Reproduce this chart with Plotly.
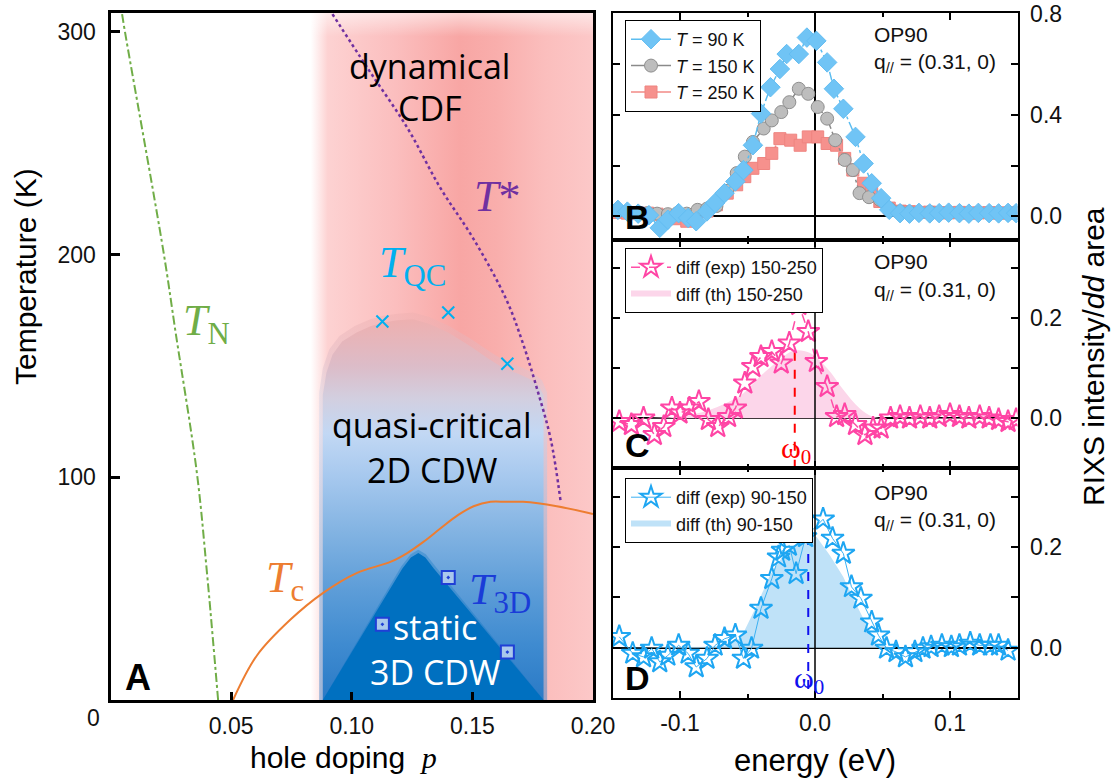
import plotly.graph_objects as go

W, H = 1116, 784


def fx(px):
    return px / W


def fy(py):
    return 1 - py / H


# ---------------- Panel A: phase diagram ----------------
# region outlines (hole doping p, temperature K)
pink_p = [0.083, 0.2, 0.2, 0.083, 0.083]
pink_T = [0, 0, 308.5, 308.5, 0]
pink_top_T = [298, 298, 308.5, 308.5, 298]

dome_p = [0.088, 0.088, 0.0895, 0.092, 0.096, 0.102, 0.108, 0.113, 0.119, 0.1255,
          0.132, 0.140, 0.149, 0.157, 0.163, 0.169, 0.174, 0.1775, 0.1795, 0.1795]
dome_T = [0, 137, 147, 155, 161, 165, 168, 169.5, 170.5, 171,
          169, 165, 159, 153, 149, 146.5, 144, 141, 137, 0]
# slightly larger outline used to soften the dome edge
dome_soft_p = [0.0865, 0.0865, 0.088, 0.0907, 0.0949, 0.1012, 0.1077, 0.1129, 0.119, 0.1255,
               0.1322, 0.1404, 0.1496, 0.1578, 0.1639, 0.1701, 0.1752, 0.1789, 0.181, 0.181]
dome_soft_T = [0, 138, 149, 157.5, 163.5, 168, 171, 172.5, 173.5, 174,
               172, 168, 162, 156, 152, 149.5, 147, 143.5, 138, 0]

cdw3d_p = [0.088, 0.121, 0.1245, 0.1276, 0.1305, 0.134, 0.1795]
cdw3d_T = [0, 59, 64, 66, 64, 59, 0]
halo_p = [0.088, 0.1205, 0.1244, 0.1276, 0.1307, 0.1347, 0.1795]
halo_T = [0, 60, 65.5, 67.5, 65.5, 60, 0]

# characteristic temperatures
tn_p = [0.0048, 0.006, 0.022, 0.027, 0.0358, 0.040, 0.0446]
tn_T = [308, 300, 201, 165, 102, 57, 0]

tc_p = [0.0508, 0.0607, 0.0745, 0.088, 0.102, 0.116, 0.123, 0.1297, 0.1367, 0.144,
        0.1505, 0.1575, 0.164, 0.171, 0.185, 0.2]
tc_T = [0, 20, 36, 48, 57, 62, 66, 71, 77, 83, 87, 89, 89, 89, 87, 83.5]

tstar_p = [0.092, 0.1064, 0.123, 0.1367, 0.1505, 0.164, 0.171, 0.177, 0.1825, 0.1866]
tstar_T = [308, 284, 257, 230, 207, 180, 160, 139, 117, 89]

tqc_p = [0.1127, 0.140, 0.1645]
tqc_T = [170, 174, 151]

t3d_p = [0.140, 0.1127, 0.1645]
t3d_T = [55, 34, 21.5]

# ---------------- Panel B: RIXS spectra ----------------
e90 = [-0.146, -0.139, -0.131, -0.123, -0.115, -0.109, -0.101, -0.094, -0.088, -0.080,
       -0.074, -0.067, -0.059, -0.053, -0.046, -0.040, -0.033, -0.026, -0.021, -0.012,
       -0.006, 0.001, 0.009, 0.014, 0.021, 0.030, 0.036, 0.042, 0.049, 0.055,
       0.063, 0.070, 0.077, 0.085, 0.092, 0.099, 0.107, 0.114, 0.121, 0.129,
       0.136, 0.143, 0.149]
i90 = [0.025, 0.018, 0.010, 0.004, -0.046, -0.014, 0.012, -0.007, -0.020, 0.019,
       0.052, 0.091, 0.137, 0.182, 0.280, 0.405, 0.509, 0.581, 0.640, 0.640,
       0.705, 0.692, 0.607, 0.503, 0.424, 0.313, 0.208, 0.130, 0.071, 0.025,
       0.012, 0.010, 0.013, 0.011, 0.012, 0.014, 0.012, 0.010, 0.013, 0.012,
       0.011, 0.013, 0.012]

e150 = [-0.146, -0.139, -0.131, -0.124, -0.117, -0.109, -0.102, -0.095, -0.087, -0.080,
        -0.073, -0.065, -0.058, -0.052, -0.046, -0.038, -0.032, -0.025, -0.019, -0.012,
        -0.005, 0.002, 0.009, 0.015, 0.022, 0.028, 0.033, 0.040, 0.048, 0.055,
        0.063, 0.070, 0.077, 0.085, 0.092, 0.099, 0.107, 0.114, 0.121, 0.129,
        0.136, 0.143, 0.149]
i150 = [0.020, 0.018, 0.015, 0.012, 0.010, 0.008, 0.012, 0.010, 0.025, 0.030,
        0.040, 0.100, 0.170, 0.235, 0.293, 0.346, 0.378, 0.411, 0.450, 0.503,
        0.483, 0.431, 0.385, 0.300, 0.222, 0.182, 0.091, 0.075, 0.065, 0.030,
        0.018, 0.015, 0.014, 0.016, 0.013, 0.015, 0.014, 0.012, 0.014, 0.013,
        0.012, 0.014, 0.013]

e250 = [-0.146, -0.139, -0.131, -0.124, -0.117, -0.109, -0.102, -0.095, -0.088, -0.080,
        -0.073, -0.065, -0.058, -0.052, -0.046, -0.038, -0.032, -0.026, -0.018, -0.011,
        -0.005, 0.002, 0.009, 0.016, 0.022, 0.028, 0.036, 0.042, 0.048, 0.055,
        0.063, 0.070, 0.077, 0.085, 0.092, 0.099, 0.107, 0.114, 0.121, 0.129,
        0.136, 0.143, 0.149]
i250 = [0.015, 0.012, 0.010, 0.012, 0.008, 0.000, -0.010, -0.020, 0.000, 0.020,
        0.045, 0.091, 0.124, 0.156, 0.189, 0.208, 0.248, 0.306, 0.300, 0.280,
        0.313, 0.313, 0.287, 0.280, 0.228, 0.182, 0.130, 0.091, 0.058, 0.032,
        0.020, 0.018, 0.015, 0.016, 0.014, 0.013, 0.015, 0.012, 0.013, 0.014,
        0.012, 0.013, 0.012]

# ---------------- Panel C: difference 150-250 ----------------
eC = [-0.145, -0.136, -0.127, -0.119, -0.112, -0.106, -0.100, -0.093, -0.086, -0.079,
      -0.072, -0.064, -0.059, -0.052, -0.046, -0.040, -0.032, -0.025, -0.019, -0.012,
      -0.005, 0.001, 0.009, 0.016, 0.022, 0.030, 0.037, 0.043, 0.049, 0.056,
      0.063, 0.070, 0.078, 0.085, 0.092, 0.100, 0.107, 0.114, 0.122, 0.129,
      0.136, 0.143, 0.149]
iC = [-0.007, -0.013, 0.000, -0.033, -0.017, 0.020, 0.010, 0.020, 0.033, -0.003,
      -0.017, 0.003, 0.020, 0.070, 0.103, 0.123, 0.133, 0.110, 0.150, 0.227,
      0.173, 0.113, 0.063, 0.003, 0.007, -0.013, -0.033, -0.020, -0.020, 0.000,
      0.003, 0.000, 0.003, 0.000, 0.003, 0.007, 0.003, 0.000, 0.003, 0.000,
      -0.003, -0.007, -0.003]
eC_th = [-0.15, -0.10, -0.08, -0.066, -0.053, -0.041, -0.028, -0.016, -0.004, 0.009,
         0.021, 0.033, 0.043, 0.06, 0.15]
iC_th = [0.0, 0.004, 0.015, 0.03, 0.05, 0.083, 0.113, 0.135, 0.131, 0.1,
         0.057, 0.02, 0.003, 0.0, 0.0]
omega0_C = -0.015
omega0_C_top = 0.133

# ---------------- Panel D: difference 90-150 ----------------
eD = [-0.145, -0.135, -0.127, -0.121, -0.115, -0.109, -0.101, -0.094, -0.088, -0.080,
      -0.074, -0.067, -0.059, -0.053, -0.047, -0.040, -0.032, -0.027, -0.024, -0.019,
      -0.014, -0.007, 0.006, 0.013, 0.021, 0.027, 0.034, 0.042, 0.047, 0.053,
      0.060, 0.067, 0.074, 0.080, 0.086, 0.094, 0.101, 0.107, 0.115, 0.122,
      0.130, 0.136, 0.143]
iD = [0.022, -0.011, -0.018, -0.001, -0.028, -0.015, 0.005, -0.011, -0.038, -0.021,
      0.005, 0.018, 0.025, -0.021, -0.001, 0.078, 0.137, 0.180, 0.193, 0.203,
      0.147, 0.220, 0.255, 0.217, 0.187, 0.121, 0.098, 0.051, 0.025, -0.001,
      -0.008, -0.018, -0.008, -0.001, 0.002, 0.005, 0.002, 0.005, 0.009, 0.005,
      0.005, 0.005, -0.005]
eD_th = [-0.15, -0.078, -0.0655, -0.0556, -0.053, -0.043, -0.0334, -0.0235, -0.0136, -0.0038,
         0.0012, 0.0111, 0.0209, 0.0308, 0.0407, 0.0456, 0.06, 0.15]
iD_th = [0.0, 0.002, 0.005, 0.018, 0.03, 0.085, 0.144, 0.183, 0.207, 0.223,
         0.22, 0.183, 0.141, 0.085, 0.032, 0.005, 0.0, 0.0]
omega0_D = -0.005
omega0_D_top = 0.222

# axis ranges
A_P = [0, 0.2]
A_T = [0, 308.5]
E_RANGE = [-0.15, 0.15]
B_RANGE = [-0.094, 0.802]
CD_RANGE = [-0.0994, 0.3566]

# spectra styles (shared by the plotted curves and their legend entries)
style_90 = dict(line=dict(color='#5cbdf0', width=1.5),
                marker=dict(symbol='diamond', size=15, color='#70c4f5',
                            line=dict(color='#63bdf2', width=1)))
style_150 = dict(line=dict(color='#8a8a8a', width=1.5),
                 marker=dict(symbol='circle', size=13, color='#bdbdbd',
                             line=dict(color='#8f8f8f', width=1)))
style_250 = dict(line=dict(color='#f28a86', width=1.5),
                 marker=dict(symbol='square', size=12, color='#f6918d',
                             line=dict(color='#ee8480', width=1)))

fig = go.Figure()

# ---- panel A regions ----
fig.add_trace(go.Scatter(
    x=pink_p, y=pink_T, mode='none', fill='toself', showlegend=False, hoverinfo='skip',
    fillgradient=dict(type='horizontal', start=0.083, stop=0.2, colorscale=[
        [0.0, 'rgba(253,212,212,0)'], [0.06, 'rgb(253,210,210)'], [0.3, 'rgb(251,190,190)'],
        [0.53, 'rgb(248,166,164)'], [0.66, 'rgb(249,174,172)'], [0.83, 'rgb(251,190,189)'],
        [1.0, 'rgb(252,200,200)']]),
    xaxis='x', yaxis='y'))
fig.add_trace(go.Scatter(
    x=pink_p, y=pink_top_T, mode='none', fill='toself', showlegend=False, hoverinfo='skip',
    fillgradient=dict(type='vertical', start=298, stop=308.5, colorscale=[
        [0.0, 'rgba(255,255,255,0)'], [1.0, 'rgba(255,255,255,0.55)']]),
    xaxis='x', yaxis='y'))

dome_scale = [
    [0.0, 'rgb(42,122,198)'], [0.146, 'rgb(63,139,208)'], [0.29, 'rgb(93,157,216)'],
    [0.44, 'rgb(130,179,226)'], [0.585, 'rgb(166,200,238)'], [0.70, 'rgb(194,216,244)'],
    [0.79, 'rgb(210,207,224)'], [0.877, 'rgb(220,188,200)'], [1.0, 'rgb(238,176,176)']]
fig.add_trace(go.Scatter(
    x=dome_soft_p, y=dome_soft_T, mode='none', fill='toself', showlegend=False,
    hoverinfo='skip', opacity=0.45,
    fillgradient=dict(type='vertical', start=0, stop=174, colorscale=dome_scale),
    xaxis='x', yaxis='y'))
fig.add_trace(go.Scatter(
    x=dome_p, y=dome_T, mode='none', fill='toself', showlegend=False, hoverinfo='skip',
    fillgradient=dict(type='vertical', start=0, stop=171, colorscale=dome_scale),
    xaxis='x', yaxis='y'))

fig.add_trace(go.Scatter(
    x=halo_p, y=halo_T, mode='none', fill='toself', fillcolor='rgba(0,112,192,0.3)',
    showlegend=False, hoverinfo='skip', xaxis='x', yaxis='y'))
fig.add_trace(go.Scatter(
    x=cdw3d_p, y=cdw3d_T, mode='none', fill='toself', fillcolor='#0070c0',
    showlegend=False, hoverinfo='skip', xaxis='x', yaxis='y'))

# ---- panel A lines ----
fig.add_trace(go.Scatter(x=tn_p, y=tn_T, mode='lines', showlegend=False,
                         line=dict(color='#70ad47', width=2, dash='dashdot', shape='spline'),
                         xaxis='x', yaxis='y'))
fig.add_trace(go.Scatter(x=tc_p, y=tc_T, mode='lines', showlegend=False,
                         line=dict(color='#ed7d31', width=2, shape='spline'),
                         xaxis='x', yaxis='y'))
fig.add_trace(go.Scatter(x=tstar_p, y=tstar_T, mode='lines', showlegend=False,
                         line=dict(color='#7030a0', width=2.5, dash='dot', shape='spline'),
                         xaxis='x', yaxis='y'))
fig.add_trace(go.Scatter(x=tqc_p, y=tqc_T, mode='markers', showlegend=False,
                         marker=dict(symbol='x-thin-open', size=12, color='#00b0f0',
                                     line=dict(color='#00b0f0', width=2)),
                         xaxis='x', yaxis='y'))
fig.add_trace(go.Scatter(x=t3d_p, y=t3d_T, mode='markers', showlegend=False,
                         marker=dict(symbol='square-dot', size=13, color='#a9c8ec',
                                     line=dict(color='#1f3fd6', width=2)),
                         xaxis='x', yaxis='y'))

# ---- panel B ----
for ev, iv, st in [(e250, i250, style_250), (e150, i150, style_150), (e90, i90, style_90)]:
    fig.add_trace(go.Scatter(
        x=ev, y=iv, mode='lines+markers', showlegend=False,
        line=dict(st['line'], dash='dashdot'), marker=st['marker'],
        xaxis='x2', yaxis='y2'))
# legend entries for the three temperatures (solid sample lines)
for name, st, rank in [('<i>T</i> = 90 K', style_90, 1), ('<i>T</i> = 150 K', style_150, 2),
                       ('<i>T</i> = 250 K', style_250, 3)]:
    fig.add_trace(go.Scatter(
        x=[None], y=[None], mode='lines+markers', name=name, legend='legend', legendrank=rank,
        line=st['line'], marker=st['marker'], xaxis='x2', yaxis='y2'))

# ---- panel C ----
fig.add_trace(go.Scatter(
    x=eC_th, y=iC_th, mode='none', fill='tozeroy', fillcolor='#fcd6ea',
    name='diff (th) 150-250', legend='legend2', legendrank=2, line=dict(shape='spline'),
    xaxis='x3', yaxis='y3'))
fig.add_trace(go.Scatter(
    x=[omega0_C, omega0_C], y=[omega0_C_top, CD_RANGE[0]], mode='lines', showlegend=False,
    line=dict(color='#ff0000', width=2, dash='dash'), xaxis='x3', yaxis='y3'))
fig.add_trace(go.Scatter(
    x=eC, y=iC, mode='lines+markers', name='diff (exp) 150-250', legend='legend2', legendrank=1,
    line=dict(color='#ff4fa8', width=1.5, dash='dash'),
    marker=dict(symbol='star-open', size=17, color='#ff45a5', line=dict(color='#ff45a5', width=2)),
    xaxis='x3', yaxis='y3'))

# ---- panel D ----
fig.add_trace(go.Scatter(
    x=eD_th, y=iD_th, mode='none', fill='tozeroy', fillcolor='#bfe2f8',
    name='diff (th) 90-150', legend='legend3', legendrank=2,
    xaxis='x4', yaxis='y4'))
fig.add_trace(go.Scatter(
    x=[omega0_D, omega0_D], y=[omega0_D_top, CD_RANGE[0]], mode='lines', showlegend=False,
    line=dict(color='#1010ee', width=2, dash='dash'), xaxis='x4', yaxis='y4'))
fig.add_trace(go.Scatter(
    x=eD, y=iD, mode='lines+markers', name='diff (exp) 90-150', legend='legend3', legendrank=1,
    line=dict(color='#3cb0f2', width=1),
    marker=dict(symbol='star-open', size=17, color='#1ea6f2', line=dict(color='#1ea6f2', width=2)),
    xaxis='x4', yaxis='y4'))

# ---------------- axes ----------------
tickfont = dict(family='Arial', size=23, color='#111')
xA_dom = [fx(110.5), fx(593)]
xR_dom = [fx(612.5), fx(1017.5)]

common_r = dict(showline=True, linecolor='black', linewidth=2, ticks='inside', tickcolor='black',
                showgrid=False, tickfont=tickfont, automargin=False)
minor_ticks = dict(tickvals=[-0.05, 0.05], ticks='inside', ticklen=4, tickwidth=1.5,
                   tickcolor='black')

fig.update_layout(
    template='none',
    width=W, height=H, margin=dict(l=0, r=0, t=0, b=0, pad=0, autoexpand=False),
    paper_bgcolor='white', plot_bgcolor='white', showlegend=True,
    xaxis=dict(domain=xA_dom, range=A_P, anchor='y', showline=True, mirror=True, linecolor='black',
               linewidth=3, ticks='inside', ticklen=8, tickwidth=2.5, tickcolor='black',
               tickvals=[0.05, 0.10, 0.15, 0.20], ticktext=['0.05', '0.10', '0.15', '0.20'],
               showgrid=False, zeroline=False, tickfont=tickfont, ticklabelstandoff=3,
               automargin=False),
    yaxis=dict(domain=[fy(700), fy(13)], range=A_T, anchor='x', showline=True, mirror=True,
               linecolor='black', linewidth=3, ticks='inside', ticklen=9, tickwidth=2.5,
               tickcolor='black', tickvals=[100, 200, 300], showgrid=False, zeroline=False,
               tickfont=tickfont, ticklabelstandoff=7, automargin=False),
    xaxis2=dict(domain=xR_dom, range=E_RANGE, anchor='y2', mirror='ticks', showticklabels=False,
                tickvals=[-0.1, 0, 0.1], ticklen=7, tickwidth=1.5, zeroline=True,
                zerolinecolor='black', zerolinewidth=1.5, minor=minor_ticks, **common_r),
    yaxis2=dict(domain=[fy(240), fy(13)], range=B_RANGE, anchor='x2', side='right', mirror='ticks',
                tickvals=[0, 0.2, 0.4, 0.6, 0.8], ticktext=['0.0', '', '0.4', '', '0.8'],
                ticklen=7, tickwidth=1.5, zeroline=True, zerolinecolor='black',
                zerolinewidth=1.5, ticklabelstandoff=6, **common_r),
    xaxis3=dict(domain=xR_dom, range=E_RANGE, anchor='y3', mirror='ticks', showticklabels=False,
                matches='x2', tickvals=[-0.1, 0, 0.1], ticklen=7, tickwidth=1.5, zeroline=False,
                minor=minor_ticks, **common_r),
    yaxis3=dict(domain=[fy(468), fy(240)], range=CD_RANGE, anchor='x3', side='right',
                mirror='ticks', tickvals=[0, 0.1, 0.2, 0.3], ticktext=['0.0', '', '0.2', ''],
                ticklen=7, tickwidth=1.5, zeroline=True, zerolinecolor='black',
                zerolinewidth=1.5, ticklabelstandoff=6, **common_r),
    xaxis4=dict(domain=xR_dom, range=E_RANGE, anchor='y4', mirror='ticks', matches='x2',
                tickvals=[-0.1, 0, 0.1], ticktext=['-0.1', '0.0', '0.1'], ticklen=7,
                tickwidth=1.5, zeroline=False, ticklabelstandoff=3, minor=minor_ticks,
                **common_r),
    yaxis4=dict(domain=[fy(698), fy(468)], range=CD_RANGE, anchor='x4', side='right',
                mirror='ticks', tickvals=[0, 0.1, 0.2, 0.3], ticktext=['0.0', '', '0.2', ''],
                ticklen=7, tickwidth=1.5, zeroline=True, zerolinecolor='black',
                zerolinewidth=1.5, ticklabelstandoff=6, **common_r),
)

legend_style = dict(bgcolor='white', bordercolor='black', borderwidth=1,
                    font=dict(family='Arial', size=18, color='#111'),
                    xanchor='left', yanchor='top', itemwidth=40, tracegroupgap=0,
                    traceorder='normal')
fig.update_layout(
    legend=dict(x=fx(625), y=fy(20), **legend_style),
    legend2=dict(x=fx(625), y=fy(248), **legend_style),
    legend3=dict(x=fx(625), y=fy(478), **legend_style),
)

# vertical zero-energy line across panels C and D, above the filled curves
for xr, yr in [('x3', 'y3'), ('x4', 'y4')]:
    fig.add_shape(type='line', xref=xr, yref=yr + ' domain',
                  x0=0, x1=0, y0=0, y1=1, line=dict(color='black', width=1.5), layer='above')

# ---------------- text ----------------
ann = []


def text(x, y, s, size, color='black', family='Arial', xanchor='center', angle=0, yanchor='middle'):
    ann.append(dict(x=fx(x), y=fy(y), xref='paper', yref='paper', text=s, showarrow=False,
                    xanchor=xanchor, yanchor=yanchor, textangle=angle,
                    font=dict(family=family, size=size, color=color)))


serif = 'Liberation Serif'
region_font = 'Open Sans'

# axis titles
text(25, 277, 'Temperature (K)', 30, angle=-90)
text(343, 757, 'hole doping  <span style="font-family:Liberation Serif"><i>p</i></span>', 30)
text(815, 760, 'energy (eV)', 31)
text(1094, 357, 'RIXS intensity/<i>dd</i> area', 30, angle=-90)
text(93, 718, '0', 23, color='#111')

# panel A labels
text(430, 66, 'dynamical', 34, family=region_font)
text(430, 108, 'CDF', 34, family=region_font)
text(432, 425, 'quasi-critical', 34, family=region_font)
text(432, 470, '2D CDW', 34, family=region_font)
text(435, 627, 'static', 34, color='white', family=region_font)
text(435, 672, '3D CDW', 34, color='white', family=region_font)

text(497, 196, '<i>T</i>*', 44, color='#7030a0', family=serif)
text(412, 265, '<i>T</i><sub>QC</sub>', 44, color='#00b0f0', family=serif)
text(206, 323, '<i>T</i><sub>N</sub>', 44, color='#70ad47', family=serif)
text(285, 580, '<i>T</i><sub>c</sub>', 44, color='#ed7d31', family=serif)
text(500, 592, '<i>T</i><sub>3D</sub>', 44, color='#1a3cd8', family=serif)

# panel letters
text(138, 677, '<b>A</b>', 36)
text(637, 217, '<b>B</b>', 34)
text(637, 445, '<b>C</b>', 34)
text(637, 678, '<b>D</b>', 34)

# sample annotations
for y0 in [34, 262, 492]:
    text(872, y0, 'OP90', 21, color='#111', xanchor='left')
    text(872, y0 + 29, 'q<sub>//</sub> = (0.31, 0)', 21, color='#111', xanchor='left')

text(796, 450, 'ω<sub>0</sub>', 30, color='#ff0000', family=serif)
text(809, 680, 'ω<sub>0</sub>', 30, color='#1010ee', family=serif)

fig.update_layout(annotations=ann)

fig.write_html('out.html')
